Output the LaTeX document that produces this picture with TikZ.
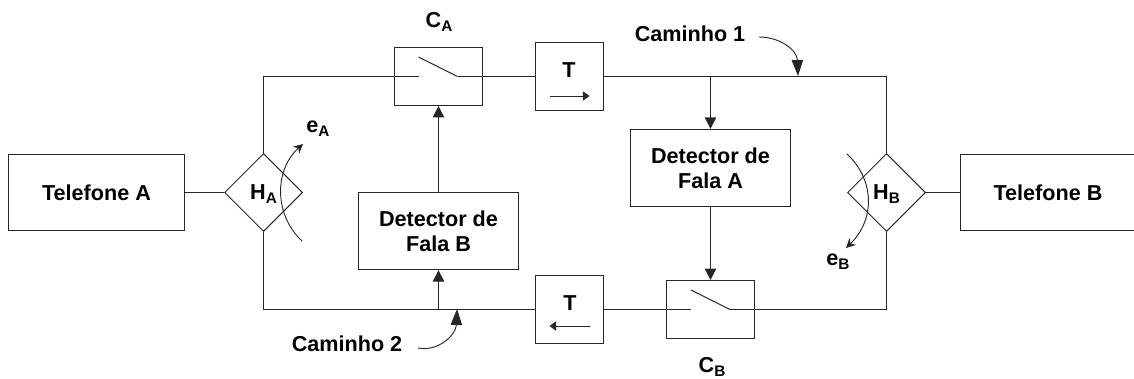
\documentclass[tikz,border=0pt]{standalone}
\usepackage{fontspec}
\setmainfont{Liberation Sans}
\usetikzlibrary{arrows.meta,shapes.geometric}
\newcommand{\lblsub}[2]{#1\raisebox{-0.18em}[0pt][0pt]{\fontsize{11.5}{11.5}\selectfont #2}}
\begin{document}
\begin{tikzpicture}[x=0.75pt,y=-0.75pt,line width=0.8pt,color={black!85},
    txt/.style={text=black,font=\fontsize{16.2}{18.5}\selectfont\bfseries,inner sep=0pt,align=center},
    phone/.style={draw,txt,minimum width=131.5pt,minimum height=57.5pt},
    detector/.style={draw,txt,minimum width=120.5pt,minimum height=58pt},
    switchbox/.style={draw,minimum width=66pt,minimum height=43.5pt},
    delaybox/.style={draw,minimum width=51pt,minimum height=51pt},
    hybrid/.style={draw,diamond,aspect=1,txt,line width=0.75pt,minimum size=58.5pt},
    big/.style={-{Triangle[length=8.5pt,width=8.5pt]}},
    small/.style={line width=0.7pt,-{Stealth[length=7pt,width=7pt]}}]
    \useasboundingbox (0,0) rectangle (1134,378);

    \node[phone] (telA) at (96.5,192.5) {Telefone A};
    \node[phone] (telB) at (1048,192.5) {Telefone B};
    \node[hybrid] (hybA) at (263.5,192.5) {\lblsub{H}{A}};
    \node[hybrid] (hybB) at (886.5,192.5) {\lblsub{H}{B}};
    \node[switchbox] (swA) at (438.5,76.5) {};
    \node[switchbox] (swB) at (710.5,309.5) {};
    \node[delaybox] (delayA) at (569.5,76.5) {};
    \node[delaybox] (delayB) at (569.5,309.5) {};
    \node[detector] (detB) at (438.5,231) {Detector de\\Fala B};
    \node[detector] (detA) at (710.5,168) {Detector de\\Fala A};

    \node[txt] (lblCA) at (439,20) {\lblsub{C}{A}};
    \node[txt] (lblCB) at (712,365) {\lblsub{C}{B}};
    \node[txt] (lblTA) at (569,70) {T};
    \node[txt] (lblTB) at (570,303) {T};
    \node[txt] (lblEA) at (318,127) {\lblsub{e}{A}};
    \node[txt] (lblEB) at (838,260) {\lblsub{e}{B}};
    \node[txt] (pathA) at (690,34) {Caminho 1};
    \node[txt] (pathB) at (347,344) {Caminho 2};

    % switch contacts
    \coordinate (inA) at (418.5,76.5);
    \coordinate (outA) at (457.5,76.5);
    \coordinate (bladeA) at (418.5,57);
    \coordinate (inB) at (691,309.5);
    \coordinate (outB) at (730,309.5);
    \coordinate (bladeB) at (691,290);
    \draw (bladeA) -- (outA);
    \draw (bladeB) -- (outB);

    % upper and lower paths
    \coordinate (cornerA) at (263.5,76.5);
    \coordinate (cornerB) at (886.5,76.5);
    \coordinate (cornerC) at (263.5,309.5);
    \coordinate (cornerD) at (886.5,309.5);
    \draw (hybA.north) -- (cornerA) -- (inA);
    \draw (outA) -- (delayA.west);
    \draw (delayA.east) -- (cornerB) -- (hybB.north);
    \draw (hybA.south) -- (cornerC) -- (delayB.west);
    \draw (delayB.east) -- (inB);
    \draw (outB) -- (cornerD) -- (hybB.south);
    \draw (telA.east) -- (hybA.west);
    \draw (hybB.east) -- (telB.west);

    % control lines
    \coordinate (tapA) at (710.5,76.5);
    \coordinate (tapB) at (438.5,309.5);
    \draw[big] (tapA) -- (detA.north);
    \draw[big] (detA.south) -- (swB.north);
    \draw[big] (tapB) -- (detB.south);
    \draw[big] (detB.north) -- (swA.south);

    % arrows in the delay boxes
    \coordinate (dirA1) at (549.5,96);
    \coordinate (dirA2) at (589.5,96);
    \coordinate (dirB1) at (589.5,326);
    \coordinate (dirB2) at (549.5,326);
    \draw[line width=0.7pt,-{Triangle[length=5pt,width=7pt]}] (dirA1) -- (dirA2);
    \draw[line width=0.7pt,-{Triangle[length=5pt,width=7pt]}] (dirB1) -- (dirB2);

    % echo and path arrows
    \coordinate (echoA1) at (302,241);
    \coordinate (echoA2) at (303,144);
    \coordinate (echoB1) at (847,154);
    \coordinate (echoB2) at (846,248);
    \draw[small] (echoA1) .. controls (274,215) and (274,170) .. (echoA2);
    \draw[small] (echoB1) .. controls (875,180) and (875,220) .. (echoB2);
    \coordinate (pathA1) at (759,37);
    \coordinate (pathA2) at (798,76);
    \coordinate (pathB1) at (418,348);
    \coordinate (pathB2) at (457,309);
    \draw[line width=0.7pt,-{Triangle[length=12pt,width=8.5pt]}] (pathA1) .. controls (780,37) and (797,50) .. (pathA2);
    \draw[line width=0.7pt,-{Triangle[length=12pt,width=8.5pt]}] (pathB1) .. controls (438,352) and (456,335) .. (pathB2);
\end{tikzpicture}
\end{document}
